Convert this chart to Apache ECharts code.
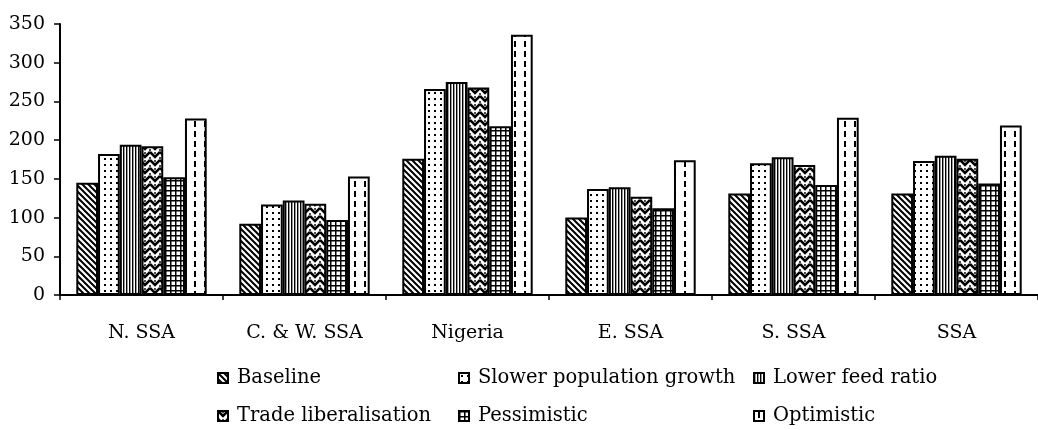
<!DOCTYPE html>
<html>
<head>
<meta charset="utf-8">
<script src="https://cdn.jsdelivr.net/npm/echarts@6/dist/echarts.min.js"></script>
<style>
  html, body { margin: 0; padding: 0; background: #fff; }
  #main { width: 1038px; height: 430px; }
</style>
</head>
<body>
<div id="main"></div>
<script>
var categories = ['N. SSA', 'C. & W. SSA', 'Nigeria', 'E. SSA', 'S. SSA', 'SSA'];
var seriesNames = ['Baseline', 'Slower population growth', 'Lower feed ratio',
                   'Trade liberalisation', 'Pessimistic', 'Optimistic'];
var baseline    = [145, 92, 176, 100, 131, 131];
var slowerPop   = [182, 117, 266, 137, 170, 173];
var lowerFeed   = [194, 122, 275, 139, 178, 180];
var tradeLib    = [192, 118, 268, 127, 168, 176];
var pessimistic = [152, 97, 218, 112, 142, 144];
var optimistic  = [228, 153, 336, 174, 229, 219];
var yTicks = [0, 50, 100, 150, 200, 250, 300, 350];

var FONT = 'DejaVu Serif';

// hatch patterns, one canvas per scenario
function makeCanvas(w, h, draw) {
  var c = document.createElement('canvas');
  c.width = w; c.height = h;
  var ctx = c.getContext('2d');
  ctx.fillStyle = '#fff';
  ctx.fillRect(0, 0, w, h);
  ctx.fillStyle = '#000';
  ctx.strokeStyle = '#000';
  draw(ctx, w, h);
  return { image: c, repeat: 'repeat' };
}

var patterns = [
  // diagonal stripes "\"
  makeCanvas(6, 6, function (ctx) {
    ctx.lineWidth = 2;
    ctx.beginPath();
    ctx.moveTo(-1, -1); ctx.lineTo(7, 7);
    ctx.moveTo(-7, -1); ctx.lineTo(1, 7);
    ctx.moveTo(5, -1); ctx.lineTo(13, 7);
    ctx.stroke();
  }),
  // dots
  makeCanvas(6, 6, function (ctx) {
    ctx.fillRect(2, 2, 2, 2);
  }),
  // fine vertical lines
  makeCanvas(3, 4, function (ctx) {
    ctx.fillRect(0, 0, 1.4, 4);
  }),
  // herringbone weave
  makeCanvas(10, 8, function (ctx) {
    ctx.lineWidth = 2.6;
    ctx.beginPath();
    for (var y = -8; y <= 16; y += 8) {
      ctx.moveTo(0, y); ctx.lineTo(5, y + 5); ctx.lineTo(10, y);
    }
    ctx.stroke();
    ctx.lineWidth = 1.4;
    ctx.beginPath();
    ctx.moveTo(5, 0); ctx.lineTo(5, 2);
    ctx.moveTo(0, 5); ctx.lineTo(0, 7);
    ctx.moveTo(10, 5); ctx.lineTo(10, 7);
    ctx.stroke();
  }),
  // square grid
  makeCanvas(5, 5, function (ctx) {
    ctx.fillRect(0, 0, 5, 1.5);
    ctx.fillRect(0, 0, 1.5, 5);
  }),
  // dashed vertical lines
  makeCanvas(10, 10, function (ctx) {
    ctx.fillRect(4, 1, 2, 6);
  })
];

var dataSets = [baseline, slowerPop, lowerFeed, tradeLib, pessimistic, optimistic];

var series = seriesNames.map(function (name, i) {
  return {
    name: name,
    type: 'bar',
    data: dataSets[i],
    barGap: '0%',
    barCategoryGap: '20%',
    itemStyle: { color: patterns[i], borderColor: '#000', borderWidth: 2 }
  };
});

// legend laid out as 2 rows x 3 columns
var legendPos = [
  [217, 368], [458, 368], [753, 368],
  [217, 406], [458, 406], [753, 406]
];
var legends = seriesNames.map(function (name, i) {
  return {
    data: [name],
    left: legendPos[i][0],
    top: legendPos[i][1],
    icon: 'rect',
    itemWidth: 10,
    itemHeight: 10,
    padding: 0,
    selectedMode: false,
    textStyle: { fontFamily: FONT, fontSize: 19.5, color: '#000', padding: [0, 0, 0, 4] }
  };
});

var chart = echarts.init(document.getElementById('main'));
chart.setOption({
  animation: false,
  backgroundColor: '#fff',
  legend: legends,
  grid: { left: 60, right: 0, top: 24, bottom: 135 },
  xAxis: {
    type: 'category',
    data: categories,
    axisLine: { lineStyle: { color: '#000', width: 2 } },
    axisTick: { show: true, length: 5, lineStyle: { color: '#000', width: 1.5 } },
    axisLabel: { color: '#000', fontFamily: FONT, fontSize: 19, margin: 29 }
  },
  yAxis: {
    type: 'value',
    min: yTicks[0],
    max: yTicks[yTicks.length - 1],
    interval: 50,
    splitLine: { show: false },
    axisLine: { show: true, lineStyle: { color: '#000', width: 2 } },
    axisTick: { show: true, length: 6, lineStyle: { color: '#000', width: 1.5 } },
    axisLabel: { color: '#000', fontFamily: FONT, fontSize: 19, margin: 15 }
  },
  series: series
});
</script>
</body>
</html>
